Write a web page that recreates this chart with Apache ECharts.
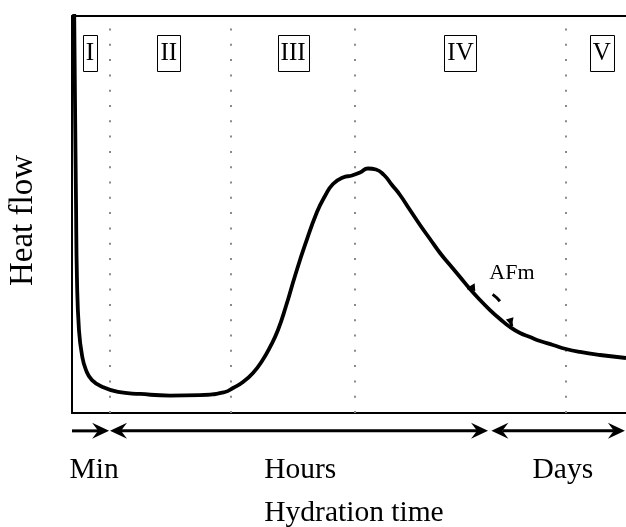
<!DOCTYPE html>
<html>
<head>
<meta charset="utf-8">
<script src="https://cdn.jsdelivr.net/npm/echarts@6/dist/echarts.min.js"></script>
<style>
  html, body { margin: 0; padding: 0; background: #fff; }
  #chart { width: 626px; height: 527px; }
</style>
</head>
<body>
<div id="chart"></div>
<script>
const FONT = '"Liberation Serif", "Times New Roman", Times, serif';

// Heat-flow curve of cement hydration (arbitrary units, time 0-100, heat 0-100)
const time = [0.36, 0.54, 0.72, 0.9, 1.26, 1.8, 2.53, 3.61, 5.6, 8.3, 12.3, 17.7, 23.1,
  27.62, 29.06, 30.87, 32.67, 34.30, 35.74, 37.18, 38.63, 40.25, 42.06, 44.22, 45.67, 47.11,
  48.92, 50.54, 51.99, 53.43, 54.87, 56.32, 57.76, 59.21, 61.01, 62.82, 64.62, 66.43, 68.23,
  70.04, 71.84, 73.65, 75.45, 77.26, 79.06, 80.87, 82.67, 84.48, 86.82, 89.17, 91.70, 95.31, 100];
const heat = [106, 78.8, 53.7, 33.5, 20.9, 14.6, 10.8, 8.3, 6.5, 5.3, 4.8, 4.4, 4.5,
  5.29, 6.30, 7.81, 10.08, 13.1, 16.6, 20.9, 26.95, 34.51, 42.32, 50.63, 54.66, 57.68,
  59.32, 59.82, 60.58, 61.59, 61.34, 59.95, 57.43, 54.91, 51.13, 47.36, 43.83, 40.30, 37.28,
  34.26, 31.23, 28.46, 25.94, 23.68, 21.66, 20.15, 19.14, 18.14, 17.13, 16.12, 15.37, 14.61, 13.85];

// Stage boundaries and stage labels
const phaseBounds = [6.73, 28.65, 50.96, 89.2];
const phaseNames = ['I', 'II', 'III', 'IV', 'V'];
const phaseNamePos = [3.25, 17.47, 39.9, 70.13, 95.63];
const PHASE_NAME_LEVEL = 90.7;

// Time-scale arrows under the axis
const periodNames = ['Min', 'Hours', 'Days'];
const periodFrom = [0, 6.86, 75.7];
const periodTo = [6.7, 75.1, 99.8];
const periodHeadFrom = [false, true, true];
const periodNamePos = [4.0, 41.2, 88.6];
const ARROW_LEVEL = -4.5;
const PERIOD_NAME_LEVEL = -14.4;

// AFm shoulder annotation
const afmText = 'AFm';
const afmTextPos = [79.4, 35.3];
const afmArrowStart = [71.3, 31.5];
const afmArrowCtrl = [77.3, 32.2];
const afmArrowEnd = [79.4, 21.9];

const chart = echarts.init(document.getElementById('chart'), null, { renderer: 'canvas' });

const measureCtx = document.createElement('canvas').getContext('2d');
function textWidth(text, font) {
  measureCtx.font = font;
  return measureCtx.measureText(text).width;
}

// arrowhead polygon: tip, barbs `len` back, optional notch `notch` back from the tip
function headPoints(tip, from, len, halfW, notch) {
  const dx = tip[0] - from[0], dy = tip[1] - from[1];
  const d = Math.hypot(dx, dy) || 1;
  const ux = dx / d, uy = dy / d, nx = -uy, ny = ux;
  const pts = [tip,
    [tip[0] - ux * len + nx * halfW, tip[1] - uy * len + ny * halfW]];
  if (notch) pts.push([tip[0] - ux * notch, tip[1] - uy * notch]);
  pts.push([tip[0] - ux * len - nx * halfW, tip[1] - uy * len - ny * halfW]);
  return pts;
}

const textStyle = (text, font) => ({
  text, fill: '#000', font,
  align: 'center', verticalAlign: 'middle', textAlign: 'center', textVerticalAlign: 'middle'
});

const HEAD_LEN = 17, HEAD_HALF = 8, HEAD_NOTCH = 11;

const option = {
  animation: false,
  backgroundColor: '#fff',
  grid: { left: 72, right: 0, top: 16, bottom: 114, containLabel: false, outerBoundsMode: 'none' },
  xAxis: [{
    type: 'value', min: 0, max: 100, position: 'bottom',
    axisLine: { show: true, lineStyle: { color: '#000', width: 2 } },
    axisTick: { show: false }, axisLabel: { show: false }, splitLine: { show: false },
    name: 'Hydration time', nameLocation: 'middle', nameGap: 85,
    nameTextStyle: { fontFamily: FONT, fontSize: 29.5, color: '#000', padding: [0, 0, 0, 10] }
  }, {
    type: 'value', min: 0, max: 100, position: 'top',
    axisLine: { show: true, lineStyle: { color: '#000', width: 2 } },
    axisTick: { show: false }, axisLabel: { show: false }, splitLine: { show: false }
  }],
  yAxis: {
    type: 'value', min: 0, max: 100,
    axisLine: { show: true, lineStyle: { color: '#000', width: 2 } },
    axisTick: { show: false }, axisLabel: { show: false }, splitLine: { show: false },
    name: 'Heat flow', nameLocation: 'middle', nameRotate: 90, nameGap: 32,
    nameTextStyle: { fontFamily: FONT, fontSize: 33, color: '#000', padding: [0, 12, 0, 0] }
  },
  series: [
    {
      type: 'line',
      data: time.map((t, i) => [t, heat[i]]),
      showSymbol: false,
      smooth: 0.5,
      clip: true,
      lineStyle: { color: '#000', width: 3.8 },
      z: 5,
      markLine: {
        silent: true,
        symbol: ['none', 'none'],
        label: { show: false },
        lineStyle: { color: '#8a8a8a', width: 2, type: [2, 13.3] },
        data: phaseBounds.map(x => ({ xAxis: x }))
      }
    },
    {
      // boxed stage numerals
      type: 'custom',
      silent: true,
      clip: false,
      z: 6,
      data: phaseNamePos.map((t, i) => [t, PHASE_NAME_LEVEL, i]),
      renderItem(params, api) {
        const name = phaseNames[api.value(2)];
        const p = api.coord([api.value(0), api.value(1)]);
        const font = '25px ' + FONT;
        const w = textWidth(name, font) + 6;
        const h = 36;
        return {
          type: 'group',
          children: [
            { type: 'rect', shape: { x: Math.round(p[0] - w / 2) + 0.5, y: Math.round(p[1] - h / 2) + 0.5, width: Math.round(w), height: h },
              style: { fill: '#fff', stroke: '#000', lineWidth: 1 } },
            { type: 'text', x: p[0], y: p[1] + 1, style: textStyle(name, font) }
          ]
        };
      }
    },
    {
      // time-scale arrows with their labels
      type: 'custom',
      silent: true,
      clip: false,
      z: 6,
      data: periodFrom.map((f, i) => [f, periodTo[i], i]),
      renderItem(params, api) {
        const i = api.value(2);
        const a = api.coord([api.value(0), ARROW_LEVEL]);
        const b = api.coord([api.value(1), ARROW_LEVEL]);
        const children = [];
        const x0 = periodHeadFrom[i] ? a[0] + HEAD_NOTCH : a[0];
        children.push({ type: 'line', shape: { x1: x0, y1: a[1], x2: b[0] - HEAD_NOTCH, y2: b[1] },
          style: { stroke: '#000', lineWidth: 3 } });
        children.push({ type: 'polygon', shape: { points: headPoints(b, a, HEAD_LEN, HEAD_HALF, HEAD_NOTCH) },
          style: { fill: '#000' } });
        if (periodHeadFrom[i]) {
          children.push({ type: 'polygon', shape: { points: headPoints(a, b, HEAD_LEN, HEAD_HALF, HEAD_NOTCH) },
            style: { fill: '#000' } });
        }
        const p = api.coord([periodNamePos[i], PERIOD_NAME_LEVEL]);
        children.push({ type: 'text', x: p[0], y: p[1], style: textStyle(periodNames[i], '29.5px ' + FONT) });
        return { type: 'group', children };
      }
    },
    {
      // AFm shoulder marker
      type: 'custom',
      silent: true,
      clip: false,
      z: 7,
      data: [[afmTextPos[0], afmTextPos[1]]],
      renderItem(params, api) {
        const s = api.coord(afmArrowStart);
        const c = api.coord(afmArrowCtrl);
        const e = api.coord(afmArrowEnd);
        const t = api.coord(afmTextPos);
        return {
          type: 'group',
          children: [
            { type: 'bezierCurve', shape: { x1: s[0], y1: s[1], x2: e[0], y2: e[1], cpx1: c[0], cpy1: c[1] },
              style: { stroke: '#000', lineWidth: 3, fill: null, lineDash: [6, 21, 10, 21, 12] } },
            { type: 'polygon', shape: { points: headPoints(s, c, 8, 4, 0) }, style: { fill: '#000' } },
            { type: 'polygon', shape: { points: headPoints(e, c, 8, 4, 0) }, style: { fill: '#000' } },
            { type: 'text', x: t[0], y: t[1], style: textStyle(afmText, '22px ' + FONT) }
          ]
        };
      }
    }
  ]
};

chart.setOption(option);
</script>
</body>
</html>
